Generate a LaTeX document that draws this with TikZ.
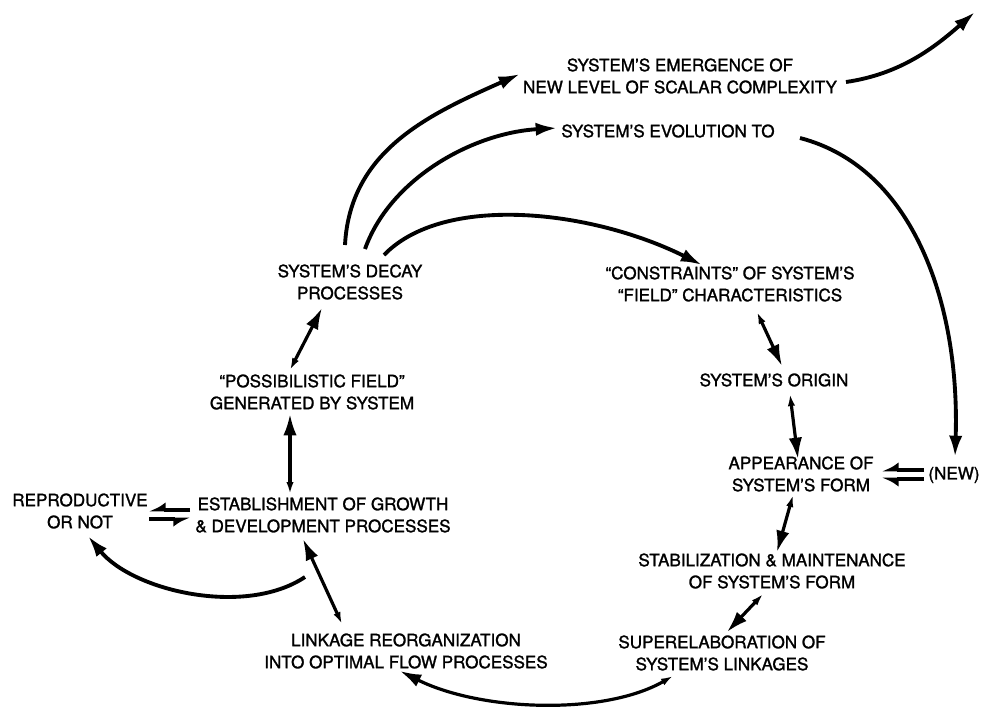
\documentclass[tikz,border=0pt]{standalone}
\usepackage{fontspec}
\setmainfont{TeX Gyre Heros}
\newfontfamily\stagefont{TeX Gyre Heros}[Ligatures=TeX, RawFeature={embolden=1.4}]
\usetikzlibrary{arrows.meta}

\tikzset{
  bighead/.tip={Latex[length=16pt,width=10pt]},
  smallhead/.tip={Latex[length=9pt,width=5.5pt]},
  stage/.style={align=center, inner sep=1pt, font=\stagefont\fontsize{12.8}{16.5}\selectfont},
  sweep/.style={line width=2.9pt, -bighead},
  twoway/.style={line width=2.4pt, smallhead-bighead},
  harp/.style={line width=2.6pt, -{Latex[harpoon,length=10pt,width=12pt]}},
  harpswap/.style={line width=2.6pt, -{Latex[harpoon,swap,length=10pt,width=12pt]}},
}

\begin{document}
\begin{tikzpicture}[x=0.75pt,y=-0.75pt]
  \useasboundingbox (0,0) rectangle (983,715);

  % stages
  \node[stage] (emerg) at (680,76) {SYSTEM'S EMERGENCE OF\\NEW LEVEL OF SCALAR COMPLEXITY};
  \node[stage] (evol) at (668,131) {SYSTEM'S EVOLUTION TO};
  \node[stage] (decay) at (350,282) {SYSTEM'S DECAY\\PROCESSES};
  \node[stage] (constr) at (730,284) {``CONSTRAINTS'' OF SYSTEM'S\\``FIELD'' CHARACTERISTICS};
  \node[stage] (possib) at (312,392) {``POSSIBILISTIC FIELD''\\GENERATED BY SYSTEM};
  \node[stage] (origin) at (774,380) {SYSTEM'S ORIGIN};
  \node[stage] (appear) at (801,474) {APPEARANCE OF\\SYSTEM'S FORM};
  \node[stage] (new) at (954,475) {(NEW)};
  \node[stage] (establ) at (323,515) {ESTABLISHMENT OF GROWTH\\\& DEVELOPMENT PROCESSES};
  \node[stage] (repro) at (80,511) {REPRODUCTIVE\\OR NOT};
  \node[stage] (stabil) at (772,571) {STABILIZATION \& MAINTENANCE\\OF SYSTEM'S FORM};
  \node[stage] (superel) at (722,653) {SUPERELABORATION OF\\SYSTEM'S LINKAGES};
  \node[stage] (linkage) at (406,651) {LINKAGE REORGANIZATION\\INTO OPTIMAL FLOW PROCESSES};
  \coordinate (beyond) at (975,12);

  % sweeping arrows out of decay
  \draw[sweep] ([shift={(-5,-37)}]decay.center) .. controls +(5,-95) and +(-90,40) .. ([shift={(-160,-2)}]emerg.center);
  \draw[sweep] ([shift={(15,-33)}]decay.center) .. controls +(25,-70) and +(-85,5) .. ([shift={(-111,-3)}]evol.center);
  \draw[sweep] ([shift={(34,-27)}]decay.center) .. controls +(60,-62) and +(-110,-55) .. ([shift={(-28,-19)}]constr.center);
  \draw[sweep] ([shift={(132,7)}]evol.center) .. controls +(115,30) and +(5,-150) .. ([shift={(1,-18)}]new.center);
  \draw[sweep] ([shift={(166,6)}]emerg.center) .. controls +(55,-8) and +(-40,35) .. (beyond);
  \draw[sweep] ([shift={(-18,62)}]establ.center) .. controls +(-60,40) and +(45,55) .. ([shift={(8,25)}]repro.center);

  % two-way steps round the cycle
  \draw[twoway] ([shift={(27,28)}]constr.center) -- ([shift={(8,-14)}]origin.center);
  \draw[twoway] ([shift={(16,14)}]origin.center) -- ([shift={(-3,-15)}]appear.center);
  \draw[twoway] ([shift={(-8,21)}]appear.center) -- ([shift={(5,-19)}]stabil.center);
  \draw[twoway] ([shift={(-9,23)}]stabil.center) -- ([shift={(5,-21)}]superel.center);
  \draw[twoway] ([shift={(-49,23)}]superel.center) .. controls +(-70,40) and +(80,40) .. ([shift={(-6,20)}]linkage.center);
  \draw[twoway] ([shift={(-64,-27)}]linkage.center) -- ([shift={(-20,24)}]establ.center);
  \draw[twoway] ([shift={(-33,-21)}]establ.center) -- ([shift={(-22,22)}]possib.center);
  \draw[twoway] ([shift={(-22,-22)}]possib.center) -- ([shift={(-28,26)}]decay.center);

  % harpoons
  \draw[harpswap] ([shift={(-133,-5)}]establ.center) -- ([shift={(69,-1)}]repro.center);
  \draw[harpswap] ([shift={(69,8)}]repro.center) -- ([shift={(-133,4)}]establ.center);
  \draw[harpswap] ([shift={(-30,-5)}]new.center) -- ([shift={(81,-4)}]appear.center);
  \draw[harp] ([shift={(-30,4)}]new.center) -- ([shift={(81,5)}]appear.center);
\end{tikzpicture}
\end{document}
